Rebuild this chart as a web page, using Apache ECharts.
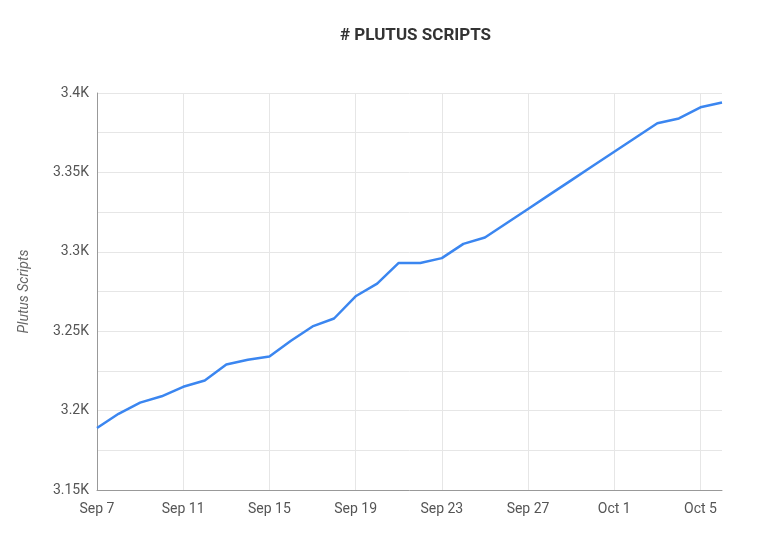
<!DOCTYPE html>
<html>
<head>
<meta charset="utf-8">
<script src="https://cdn.jsdelivr.net/npm/echarts@6/dist/echarts.min.js"></script>
<style>html,body{margin:0;background:#fff}#main{width:780px;height:544px}</style>
</head>
<body>
<div id="main"></div>
<script>
var days = ['Sep 7','Sep 8','Sep 9','Sep 10','Sep 11','Sep 12','Sep 13','Sep 14','Sep 15','Sep 16',
  'Sep 17','Sep 18','Sep 19','Sep 20','Sep 21','Sep 22','Sep 23','Sep 24','Sep 25','Sep 26',
  'Sep 27','Sep 28','Sep 29','Sep 30','Oct 1','Oct 2','Oct 3','Oct 4','Oct 5','Oct 6'];
var scripts = [3189,3198,3205,3209,3215,3219,3229,3232,3234,3244,
  3253,3258,3272,3280,3293,3293,3296,3305,3309,3318,
  3327,3336,3345,3354,3363,3372,3381,3384,3391,3394];

var chart = echarts.init(document.getElementById('main'));
chart.setOption({
  animation: false,
  title: { text: '# PLUTUS SCRIPTS', left: 335, top: 22,
    textStyle: { fontFamily: 'Roboto', fontSize: 17, fontWeight: 'bold', color: '#333' } },
  grid: { left: 97, right: 58, top: 93, bottom: 54 },
  xAxis: {
    type: 'category', data: days, boundaryGap: false,
    axisLine: { lineStyle: { color: '#999' } },
    axisTick: { show: false },
    axisLabel: { interval: 3, color: '#555', fontSize: 14, fontFamily: 'Roboto', margin: 12 },
    splitLine: { show: true, interval: 3, lineStyle: { color: '#e6e6e6' } }
  },
  yAxis: {
    type: 'value', min: 3150, max: 3400, interval: 25,
    name: 'Plutus Scripts', nameLocation: 'middle', nameGap: 66,
    nameTextStyle: { fontStyle: 'italic', color: '#666', fontSize: 14, fontFamily: 'Roboto' },
    axisLine: { show: true, lineStyle: { color: '#999' } },
    axisTick: { show: false },
    axisLabel: { color: '#555', fontSize: 14, fontFamily: 'Roboto',
      formatter: function (v) { return v % 50 === 0 ? (v / 1000) + 'K' : ''; } },
    splitLine: { lineStyle: { color: '#e6e6e6' } }
  },
  series: [{
    type: 'line', data: scripts, showSymbol: false,
    lineStyle: { color: '#3b86f0', width: 2.5 }
  }]
});
</script>
</body>
</html>
